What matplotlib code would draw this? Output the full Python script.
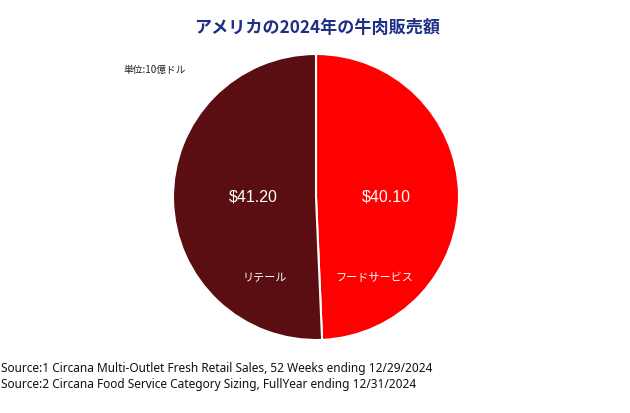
import matplotlib
matplotlib.use("Agg")
import matplotlib.pyplot as plt
import numpy as np

categories = ["フードサービス", "リテール"]
values = [40.10, 41.20]
value_labels = ["$40.10", "$41.20"]
colors = ["#ff0000", "#5a0e12"]

title = "アメリカの2024年の牛肉販売額"
unit = "単位:10億ドル"
sources = ["Source:1 Circana Multi-Outlet Fresh Retail Sales, 52 Weeks ending 12/29/2024",
           "Source:2 Circana Food Service Category Sizing, FullYear ending 12/31/2024"]

JP = ["Noto Sans CJK JP", "DejaVu Sans"]
LAT = ["Liberation Sans", "Noto Sans CJK JP"]

fig = plt.figure(figsize=(6.3, 4.14), dpi=100)
ax = fig.add_axes([(316 - 143) / 630, (414 - 198 - 143) / 414, 286 / 630, 286 / 414])
wedges, _ = ax.pie(values, colors=colors, startangle=90, counterclock=False,
                   wedgeprops=dict(edgecolor="white", linewidth=1.5))
ax.set_xlim(-1, 1)
ax.set_ylim(-1, 1)
ax.set_aspect("equal")

# annotation positions (in pie units)
val_pos = [(0.49, 0.01), (-0.44, 0.01)]
cat_pos = [(0.41, -0.56), (-0.36, -0.56)]
for (x, y), t in zip(val_pos, value_labels):
    ax.text(x, y, t, ha="center", va="center", color="white", fontsize=11.5, family=LAT)
for (x, y), t in zip(cat_pos, categories):
    ax.text(x, y, t, ha="center", va="center", color="white", fontsize=8, family=JP)

fig.text(317 / 630, 1 - 28 / 414, title, ha="center", va="center", color="#1f2e86",
         fontsize=12.3, fontweight="bold", family=JP)
fig.text(123 / 630, 1 - 70 / 414, unit, ha="left", va="center", color="#222222",
         fontsize=7, family=JP)
for i, s in enumerate(sources):
    fig.text(1 / 630, 1 - (369 + 16 * i) / 414, s, ha="left", va="center", color="#111111",
             fontsize=8.55, family=["Noto Sans", "DejaVu Sans"])

fig.savefig("out.png", dpi=100)
